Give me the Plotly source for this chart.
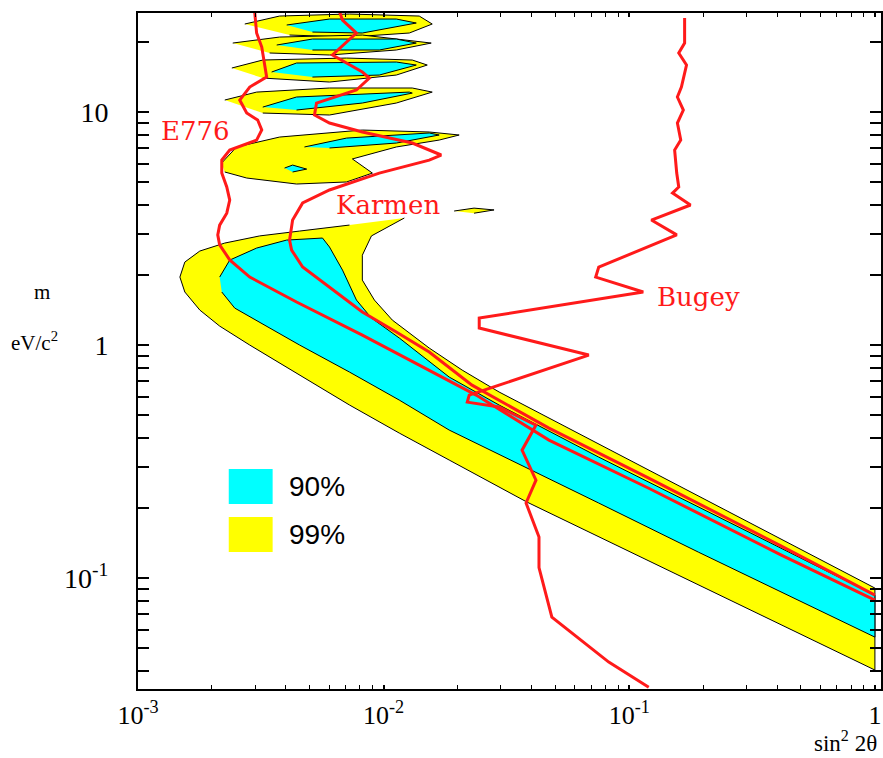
import plotly.graph_objects as go

# ---------------- data ----------------
# LSND allowed region, main band (sin^2 2theta, delta m^2 in eV^2/c^4)
lsnd99_main_sin2 = [1.214e-2, 8.92e-3, 8.19e-3, 8.19e-3, 9.17e-3, 1.085e-2, 1.533e-2, 2.087e-2, 2.95e-2,
                    7.51e-2, 0.191, 0.487, 1.0, 1.0, 0.487, 0.191, 7.51e-2, 3.83e-2, 1.849e-2, 1.158e-2,
                    7.26e-3, 4.55e-3, 2.85e-3, 2.15e-3, 1.785e-3, 1.551e-3, 1.481e-3, 1.551e-3, 1.785e-3,
                    2.255e-3, 3.13e-3, 4.55e-3, 7.26e-3]
lsnd99_main_dm2 = [3.51, 2.94, 2.43, 1.90, 1.56, 1.28, 0.971, 0.781, 0.629, 0.376, 0.225, 0.1345, 0.0906,
                   0.0403, 0.0581, 0.0933, 0.150, 0.212, 0.321, 0.419, 0.553, 0.743, 1.0, 1.206, 1.413,
                   1.689, 1.958, 2.271, 2.532, 2.740, 2.94, 3.085, 3.273]

lsnd90_main_sin2 = [2.15e-3, 2.363e-3, 3.041e-3, 4.027e-3, 5.638e-3, 6.02e-3, 6.80e-3, 7.75e-3, 8.92e-3,
                    1.158e-2, 1.849e-2, 2.95e-2, 7.51e-2, 0.191, 0.487, 1.0, 1.0, 0.487, 0.191, 7.51e-2,
                    3.83e-2, 1.849e-2, 1.158e-2, 7.26e-3, 4.55e-3, 3.13e-3, 2.476e-3, 2.193e-3]
lsnd90_main_dm2 = [1.958, 2.316, 2.608, 2.822, 2.879, 2.634, 2.098, 1.560, 1.306, 1.072, 0.729, 0.553,
                   0.3305, 0.2017, 0.1231, 0.0845, 0.0558, 0.0804, 0.1293, 0.2099, 0.2966, 0.4317,
                   0.5806, 0.7658, 1.0, 1.255, 1.441, 1.689]

# high delta m^2 islands (99% and 90%)
island1_99_sin2 = [2.72e-3, 3.77e-3, 7.26e-3, 1.396e-2, 1.577e-2, 1.272e-2, 7.26e-3, 4.14e-3]
island1_99_dm2 = [23.86, 25.82, 26.34, 25.82, 23.86, 21.83, 20.98, 21.40]
island1_90_sin2 = [4.03e-3, 6.02e-3, 1.126e-2, 1.358e-2, 8.19e-3, 5.13e-3]
island1_90_dm2 = [23.63, 25.07, 25.07, 24.10, 21.83, 22.04]

island2_99_sin2 = [2.43e-3, 3.77e-3, 8.19e-3, 1.562e-2, 1.126e-2, 6.02e-3, 3.435e-3]
island2_99_dm2 = [19.77, 20.98, 21.40, 19.77, 18.46, 17.57, 17.92]
island2_90_sin2 = [3.67e-3, 5.13e-3, 1.126e-2, 1.358e-2, 9.6e-3, 5.13e-3]
island2_90_dm2 = [19.39, 20.57, 20.57, 19.77, 18.46, 18.46]

island3_99_sin2 = [2.41e-3, 3.22e-3, 7.06e-3, 1.308e-2, 1.505e-2, 1.126e-2, 6.02e-3, 3.22e-3]
island3_99_dm2 = [15.45, 16.72, 17.05, 16.72, 15.91, 14.41, 13.45, 13.99]
island3_90_sin2 = [3.50e-3, 4.42e-3, 1.126e-2, 1.358e-2, 9.6e-3, 5.13e-3]
island3_90_dm2 = [14.85, 16.23, 16.39, 15.91, 14.41, 14.13]

island4_99_sin2 = [2.255e-3, 3.04e-3, 6.02e-3, 1.308e-2, 1.577e-2, 1.126e-2, 6.02e-3, 3.22e-3]
island4_99_dm2 = [11.26, 12.18, 12.68, 12.68, 12.18, 10.93, 9.71, 9.90]
island4_90_sin2 = [3.22e-3, 4.42e-3, 1.272e-2, 1.308e-2, 8.19e-3, 4.42e-3]
island4_90_dm2 = [10.50, 11.60, 12.18, 12.06, 10.93, 10.20]

island5_99_sin2 = [2.19e-3, 2.52e-3, 3.77e-3, 8.19e-3, 1.533e-2, 2.03e-2, 1.683e-2, 1.126e-2, 7.46e-3,
                   9.0e-3, 7.06e-3, 4.42e-3, 2.77e-3, 2.255e-3]
island5_99_dm2 = [6.04, 7.08, 7.81, 8.37, 8.21, 7.97, 7.58, 7.08, 6.29, 5.47, 5.01, 4.91, 5.21, 5.53]
island5_90_sin2 = [4.76e-3, 7.06e-3, 1.533e-2, 1.683e-2, 1.126e-2, 6.02e-3]
island5_90_dm2 = [7.08, 7.73, 8.13, 7.97, 7.36, 7.01]

island6_90_sin2 = [3.95e-3, 4.26e-3, 4.86e-3, 4.26e-3]
island6_90_dm2 = [5.75, 5.92, 5.69, 5.53]

island7_99_sin2 = [1.936e-2, 2.334e-2, 2.815e-2, 2.334e-2]
island7_99_dm2 = [3.76, 3.87, 3.80, 3.68]

# exclusion curves (90% CL)
e776_sin2 = [2.985e-3, 3.04e-3, 3.19e-3, 3.34e-3, 2.85e-3, 2.595e-3, 2.77e-3, 3.07e-3, 3.19e-3, 3.04e-3,
             2.363e-3, 2.193e-3, 2.193e-3, 2.298e-3, 2.363e-3, 2.298e-3, 2.15e-3, 2.112e-3, 2.15e-3,
             2.363e-3, 2.85e-3, 4.42e-3, 8.19e-3, 1.533e-2, 2.38e-2, 4.71e-2, 0.120, 0.416, 1.0]
e776_dm2 = [27.0, 21.83, 19.01, 14.13, 12.80, 11.26, 9.90, 9.24, 8.37, 7.58, 6.87, 6.22, 5.47, 4.77, 4.19,
            3.68, 3.27, 2.97, 2.69, 2.32, 1.958, 1.53, 1.104, 0.781, 0.610, 0.391, 0.243, 0.1255, 0.0804]

karmen_sin2 = [6.61e-3, 6.80e-3, 7.75e-3, 6.19e-3, 8.19e-3, 8.75e-3, 7.75e-3, 5.33e-3, 5.23e-3, 6.02e-3,
               8.19e-3, 1.308e-2, 1.715e-2, 1.533e-2, 9.6e-3, 6.02e-3, 4.68e-3, 4.26e-3, 4.14e-3, 4.22e-3,
               4.68e-3, 6.02e-3, 8.19e-3, 1.126e-2, 1.533e-2, 2.29e-2, 4.71e-2, 0.120, 0.416, 1.0]
karmen_dm2 = [27.0, 24.8, 21.83, 17.57, 14.85, 13.99, 12.43, 10.93, 9.71, 8.97, 8.21, 7.36, 6.54, 6.22,
              5.47, 4.63, 4.07, 3.44, 2.82, 2.557, 2.162, 1.774, 1.386, 1.137, 0.933, 0.673, 0.440,
              0.2687, 0.1372, 0.0845]

bugey_sin2 = [0.168, 0.168, 0.159, 0.171, 0.163, 0.157, 0.166, 0.157, 0.162, 0.153, 0.156, 0.159, 0.150,
              0.1775, 0.123, 0.156, 7.51e-2, 7.30e-2, 0.114, 5.17e-2, 2.45e-2, 2.45e-2, 3.9e-2, 6.84e-2,
              2.95e-2, 2.23e-2, 2.19e-2, 2.95e-2, 4.17e-2, 4.02e-2, 3.66e-2, 4.17e-2, 3.80e-2, 4.29e-2,
              4.29e-2, 4.84e-2, 5.84e-2, 8.25e-2, 0.120]
bugey_dm2 = [25.3, 19.77, 17.92, 15.91, 12.80, 11.60, 10.20, 8.97, 7.58, 6.87, 5.47, 4.77, 4.49, 3.99,
             3.44, 2.97, 2.16, 1.958, 1.689, 1.485, 1.306, 1.183, 1.051, 0.906, 0.673, 0.610, 0.569,
             0.542, 0.4535, 0.423, 0.354, 0.263, 0.210, 0.150, 0.111, 0.068, 0.0581, 0.0436, 0.0340]

x_tick_vals = [1e-3, 1e-2, 1e-1, 1]
x_tick_text = ["10<sup>-3</sup>", "10<sup>-2</sup>", "10<sup>-1</sup>", "1"]
x_minor_vals = [m * d for d in (1e-3, 1e-2, 1e-1) for m in range(2, 10)]
y_tick_vals = [0.1, 1, 10]
y_tick_text = ["10<sup>-1</sup>", "1", "10"]
y_minor_vals = [m * d for d in (0.01, 0.1, 1, 10) for m in range(2, 10)]

legend_labels = ["90%", "99%"]
curve_labels = ["E776", "Karmen", "Bugey"]

# ---------------- styles ----------------
YELLOW = "#ffff00"
CYAN = "#00ffff"
RED = "#ff1a1a"
SERIF = "Liberation Serif"
LABEL_FONT = "DejaVu Serif"

fig = go.Figure()


def region(xs, ys, color):
    fig.add_trace(go.Scatter(x=xs, y=ys, mode="lines", fill="toself", fillcolor=color,
                             line=dict(color="black", width=1), hoverinfo="skip", showlegend=False))


# 99% regions first, 90% on top
region(lsnd99_main_sin2, lsnd99_main_dm2, YELLOW)
for xs, ys in [(island1_99_sin2, island1_99_dm2), (island2_99_sin2, island2_99_dm2),
               (island3_99_sin2, island3_99_dm2), (island4_99_sin2, island4_99_dm2),
               (island5_99_sin2, island5_99_dm2), (island7_99_sin2, island7_99_dm2)]:
    region(xs, ys, YELLOW)
region(lsnd90_main_sin2, lsnd90_main_dm2, CYAN)
for xs, ys in [(island1_90_sin2, island1_90_dm2), (island2_90_sin2, island2_90_dm2),
               (island3_90_sin2, island3_90_dm2), (island4_90_sin2, island4_90_dm2),
               (island5_90_sin2, island5_90_dm2), (island6_90_sin2, island6_90_dm2)]:
    region(xs, ys, CYAN)

for xs, ys in [(e776_sin2, e776_dm2), (karmen_sin2, karmen_dm2), (bugey_sin2, bugey_dm2)]:
    fig.add_trace(go.Scatter(x=xs, y=ys, mode="lines", line=dict(color=RED, width=3),
                             hoverinfo="skip", showlegend=False))

# plot area in pixels: x 138..883, y 13..689
W, H = 883, 758
L, R, T, B = 138, 0, 13, 69
pw, ph = W - L - R, H - T - B


def px(xp):
    return (xp - L) / pw


def py(yp):
    return (H - B - yp) / ph


annotations = []
for text, cx, cy in zip(curve_labels, [196, 389, 700], [131, 205, 297]):
    annotations.append(dict(text=text, x=px(cx), y=py(cy), xref="paper", yref="paper",
                            showarrow=False, xanchor="center", yanchor="middle",
                            font=dict(family=LABEL_FONT, size=26, color=RED)))

shapes = []
for label, color, y0, y1 in zip(legend_labels, [CYAN, YELLOW], [469, 517], [504, 552]):
    shapes.append(dict(type="rect", xref="paper", yref="paper", x0=px(229), x1=px(273),
                       y0=py(y1), y1=py(y0), fillcolor=color, line=dict(width=0)))
    annotations.append(dict(text=label, x=px(287), y=py((y0 + y1) / 2), xref="paper", yref="paper",
                            showarrow=False, xanchor="left", yanchor="middle",
                            font=dict(family="Liberation Sans", size=28, color="black")))

annotations.append(dict(text="m", x=px(42), y=py(292), xref="paper", yref="paper", showarrow=False,
                        xanchor="center", yanchor="middle", font=dict(family=SERIF, size=21, color="black")))
annotations.append(dict(text="eV/c<sup>2</sup>", x=px(34), y=py(341), xref="paper", yref="paper",
                        showarrow=False, xanchor="center", yanchor="middle",
                        font=dict(family=SERIF, size=21, color="black")))
annotations.append(dict(text="sin<sup>2</sup> 2θ", x=px(881), y=py(758), xref="paper", yref="paper",
                        showarrow=False, xanchor="right", yanchor="bottom",
                        font=dict(family=SERIF, size=23, color="black")))

x_lo = -3.0
x_hi = x_lo + pw / 246.3

fig.update_layout(
    width=W, height=H,
    margin=dict(l=L, r=R, t=T, b=B),
    paper_bgcolor="white", plot_bgcolor="white",
    showlegend=False,
    annotations=annotations,
    shapes=shapes,
    xaxis=dict(type="log", range=[x_lo, x_hi], showgrid=False, zeroline=False,
               showline=True, linecolor="black", linewidth=2, mirror="allticks",
               ticks="inside", ticklen=4, tickwidth=1.5, tickcolor="black",
               tickmode="array", tickvals=x_tick_vals, ticktext=x_tick_text,
               ticklabelstandoff=2,
               tickfont=dict(family=SERIF, size=26, color="black"),
               minor=dict(ticks="inside", ticklen=4, tickwidth=1.2, tickcolor="black",
                          tickmode="array", tickvals=x_minor_vals, showgrid=False)),
    yaxis=dict(type="log", range=[-1.476, 1.425], showgrid=False, zeroline=False,
               showline=True, linecolor="black", linewidth=2, mirror="allticks",
               ticks="inside", ticklen=11, tickwidth=1.8, tickcolor="black",
               tickmode="array", tickvals=y_tick_vals, ticktext=y_tick_text,
               ticklabelstandoff=22,
               tickfont=dict(family=SERIF, size=28, color="black"),
               minor=dict(ticks="inside", ticklen=11, tickwidth=1.8, tickcolor="black",
                          tickmode="array", tickvals=y_minor_vals, showgrid=False)),
)

fig.write_html("out.html")
